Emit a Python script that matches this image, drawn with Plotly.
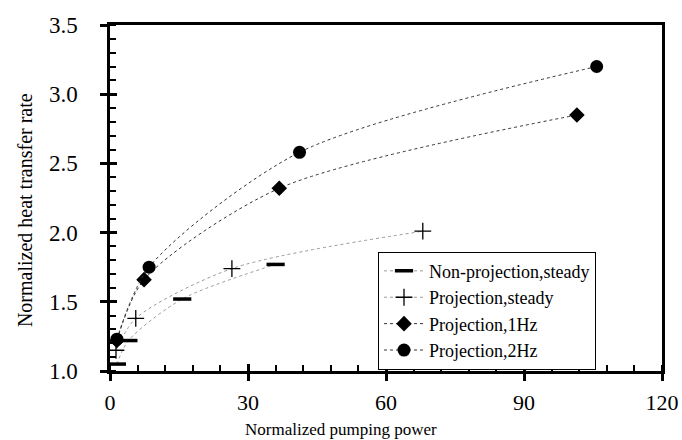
import plotly.graph_objects as go

np_x = [1.5, 4.0, 15.7, 36.0]
np_y = [1.05, 1.22, 1.52, 1.77]

ps_x = [1.3, 5.6, 26.5, 68.0]
ps_y = [1.15, 1.38, 1.74, 2.01]

p1_x = [1.5, 7.4, 36.8, 101.5]
p1_y = [1.22, 1.66, 2.32, 2.85]

p2_x = [1.5, 8.5, 41.2, 105.8]
p2_y = [1.23, 1.75, 2.58, 3.20]

names = ["Non-projection,steady", "Projection,steady", "Projection,1Hz", "Projection,2Hz"]
x_ticks = [0, 30, 60, 90, 120]
y_ticks = [1.0, 1.5, 2.0, 2.5, 3.0, 3.5]
y_ticktext = ["1.0", "1.5", "2.0", "2.5", "3.0", "3.5"]
x_title = "Normalized pumping power"
y_title = "Normalized heat transfer rate"

font = "Liberation Serif"

fig = go.Figure()
fig.add_trace(go.Scatter(x=np_x, y=np_y, name=names[0], mode="lines+markers",
    line=dict(color="#9a9a9a", width=1, dash="dot", shape="spline", smoothing=0.8),
    marker=dict(symbol="line-ew-open", size=13, color="black", line=dict(color="black", width=3.5))))
fig.add_trace(go.Scatter(x=ps_x, y=ps_y, name=names[1], mode="lines+markers",
    line=dict(color="#9a9a9a", width=1, dash="dot", shape="spline", smoothing=0.8),
    marker=dict(symbol="cross-thin-open", size=12, color="black", line=dict(color="black", width=1.3))))
fig.add_trace(go.Scatter(x=p1_x, y=p1_y, name=names[2], mode="lines+markers",
    line=dict(color="#333333", width=1, dash="dot", shape="spline", smoothing=0.8),
    marker=dict(symbol="diamond", size=12, color="black")))
fig.add_trace(go.Scatter(x=p2_x, y=p2_y, name=names[3], mode="lines+markers",
    line=dict(color="#333333", width=1, dash="dot", shape="spline", smoothing=0.8),
    marker=dict(symbol="circle", size=13, color="black")))

fig.update_layout(
    width=682, height=440,
    margin=dict(l=110, r=20, t=25, b=69, autoexpand=False),
    plot_bgcolor="white", paper_bgcolor="white",
    font=dict(family=font, color="black"),
    showlegend=True,
    legend=dict(x=0.4855, y=0.345, xanchor="left", yanchor="top",
                bordercolor="black", borderwidth=1, bgcolor="white",
                font=dict(size=18, family=font, color="black"), tracegroupgap=0, itemwidth=40),
    xaxis=dict(range=[0, 120], tickvals=x_ticks, ticks="outside", ticklen=7, automargin=False,
               tickwidth=2.5, tickcolor="black", showline=True, linecolor="black", linewidth=2.5,
               mirror=True, showgrid=False, zeroline=False, ticklabelstandoff=3,
               tickfont=dict(size=22, family=font, color="black"),
               minor=dict(dtick=6, ticks="inside", ticklen=6, tickwidth=1.5, tickcolor="black", showgrid=False)),
    yaxis=dict(range=[1.0, 3.5], tickvals=y_ticks, ticktext=y_ticktext,
               ticks="outside", ticklen=7, tickwidth=2.5, tickcolor="black", automargin=False,
               showline=True, linecolor="black", linewidth=2.5, mirror=True, ticklabelstandoff=18,
               showgrid=False, zeroline=False, tickfont=dict(size=23, family=font, color="black"),
               minor=dict(dtick=0.1, ticks="inside", ticklen=6, tickwidth=1.5, tickcolor="black", showgrid=False)),
    xaxis2=dict(range=[0, 120], overlaying="x", tickvals=x_ticks, ticks="inside", automargin=False,
                ticklen=7, tickwidth=2.5, tickcolor="black", showticklabels=False, showgrid=False,
                zeroline=False, showline=False),
    yaxis2=dict(range=[1.0, 3.5], overlaying="y", tickvals=y_ticks, ticks="inside", automargin=False,
                ticklen=7, tickwidth=2.5, tickcolor="black", showticklabels=False, showgrid=False,
                zeroline=False, showline=False),
)
fig.add_trace(go.Scatter(x=[None], y=[None], xaxis="x2", yaxis="y2", showlegend=False, hoverinfo="skip"))

fig.add_annotation(text=x_title, xref="paper", yref="paper", x=0.418, y=-0.168,
                   xanchor="center", yanchor="middle", showarrow=False,
                   font=dict(size=17, family=font, color="black"))
fig.add_annotation(text=y_title, xref="paper", yref="paper", x=-0.154, y=0.465, textangle=-90,
                   xanchor="center", yanchor="middle", showarrow=False,
                   font=dict(size=20, family=font, color="black"))

fig.write_html("out.html")
